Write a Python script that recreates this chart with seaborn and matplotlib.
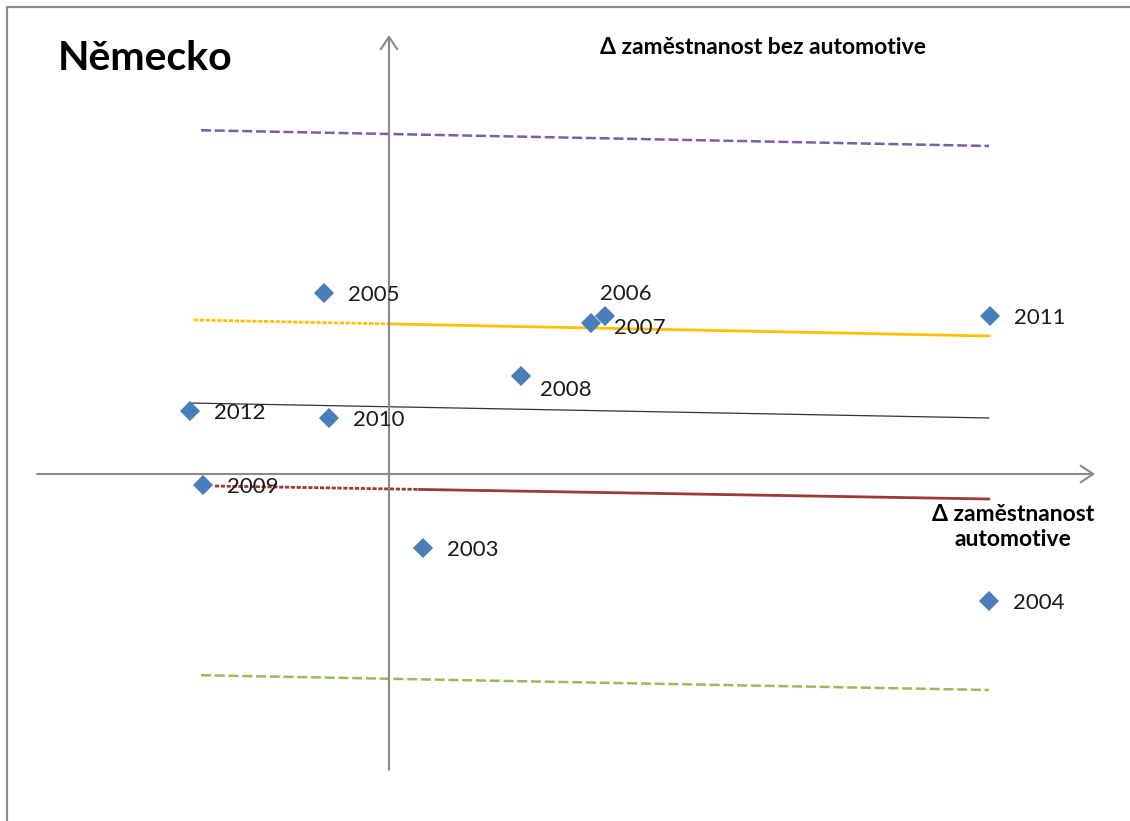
import matplotlib
matplotlib.use("Agg")
import matplotlib.pyplot as plt
import seaborn as sns
import pandas as pd

# ---- data ----
years = ["2003", "2004", "2005", "2006", "2007", "2008", "2009", "2010", "2011", "2012"]
d_automotive = [0.34, 6.00, -0.65, 2.16, 2.02, 1.32, -1.86, -0.60, 6.01, -1.99]
d_bez_automotive = [-0.74, -1.27, 1.81, 1.58, 1.51, 0.98, -0.11, 0.56, 1.58, 0.63]

# reference lines (start x, end x, start y, end y)
line_names = ["purple", "yellow", "black", "red", "green"]
line_x0 = [-2.00, -1.95, -2.00, -1.74, -2.00]
line_x1 = [6.00, 6.00, 6.00, 6.00, 6.00]
line_y0 = [3.44, 1.54, 0.71, -0.12, -2.01]
line_y1 = [3.28, 1.38, 0.56, -0.25, -2.16]

title = "Německo"
y_label = "Δ zaměstnanost bez automotive"
x_label = "Δ zaměstnanost\nautomotive"

sns.set_style("white")
plt.rcParams["font.family"] = ["Lato", "DejaVu Sans"]

fig = plt.figure(figsize=(11.30, 8.21), dpi=100)
ax = fig.add_axes([0, 0, 1, 1])
ax.set_xlim(-3.89, 7.41)
ax.set_ylim(-3.47, 4.74)
ax.axis("off")

# frame (left and top)
fx, fy = 7 / 1130, 1 - 7 / 821
ax.plot([fx, fx, 1.0], [0.0, fy, fy], transform=ax.transAxes, color="#8c8c8c", lw=1.6,
        solid_capstyle="butt", clip_on=False)

# axes with arrows
axis_col = "#8a8a8a"
ax.annotate("", xy=(7.06, 0), xytext=(-3.52, 0),
            arrowprops=dict(arrowstyle="->,head_length=0.9,head_width=0.6", color=axis_col, lw=1.5,
                            shrinkA=0, shrinkB=0))
ax.annotate("", xy=(0, 4.39), xytext=(0, -2.96),
            arrowprops=dict(arrowstyle="->,head_length=0.9,head_width=0.6", color=axis_col, lw=1.5,
                            shrinkA=0, shrinkB=0))

# reference lines
def seg(i, xa, xb, **kw):
    x0, x1, y0, y1 = line_x0[i], line_x1[i], line_y0[i], line_y1[i]
    ya = y0 + (y1 - y0) * (xa - x0) / (x1 - x0)
    yb = y0 + (y1 - y0) * (xb - x0) / (x1 - x0)
    df = pd.DataFrame({"x": [xa, xb], "y": [ya, yb]})
    sns.lineplot(data=df, x="x", y="y", ax=ax, sort=False, **kw)

# purple dashed
seg(0, line_x0[0] + 0.12, line_x1[0], color="#7a5fa3", lw=1.8, dashes=(4, 1.5))
# yellow: dotted left part, solid right part
seg(1, line_x0[1], 0.0, color="#ffc000", lw=2.0, dashes=(1.5, 0.6))
seg(1, 0.0, line_x1[1], color="#ffc000", lw=2.0)
# black thin
seg(2, line_x0[2], line_x1[2], color="#333333", lw=0.9)
# dark red: dotted left part, solid right part
seg(3, line_x0[3], 0.3, color="#9b3a37", lw=2.0, dashes=(1.5, 0.6))
seg(3, 0.3, line_x1[3], color="#9b3a37", lw=2.0)
# green dashed
seg(4, line_x0[4] + 0.12, line_x1[4], color="#9bbb59", lw=1.8, dashes=(4, 1.5))

# scatter points
pts = pd.DataFrame({"year": years, "x": d_automotive, "y": d_bez_automotive})
sns.scatterplot(data=pts, x="x", y="y", ax=ax, marker="D", s=105, color="#4a7ebb",
                edgecolor="none", zorder=5)

# point labels
offsets = {"2006": (-5, 22), "2007": (23, -5), "2008": (19, -14)}
for yr, xv, yv in zip(years, d_automotive, d_bez_automotive):
    off = offsets.get(yr, (24, -2))
    ax.annotate(yr, xy=(xv, yv), xytext=off, textcoords="offset pixels",
                ha="left", va="center", fontsize=16, color="#1a1a1a", zorder=6)

# title and axis labels
ax.text(58 / 1130, 1 - 58 / 821, title, transform=ax.transAxes, ha="left", va="center",
        fontsize=29.5, fontweight="bold", color="#000000")
ax.text(763 / 1130, 1 - 48 / 821, y_label, transform=ax.transAxes, ha="center", va="center",
        fontsize=16.5, fontweight="bold", color="#000000")
ax.text(1013 / 1130, 1 - 527 / 821, x_label, transform=ax.transAxes, ha="center", va="center",
        fontsize=16.5, fontweight="bold", color="#000000", linespacing=1.2)

fig.savefig("out.png", dpi=100)
